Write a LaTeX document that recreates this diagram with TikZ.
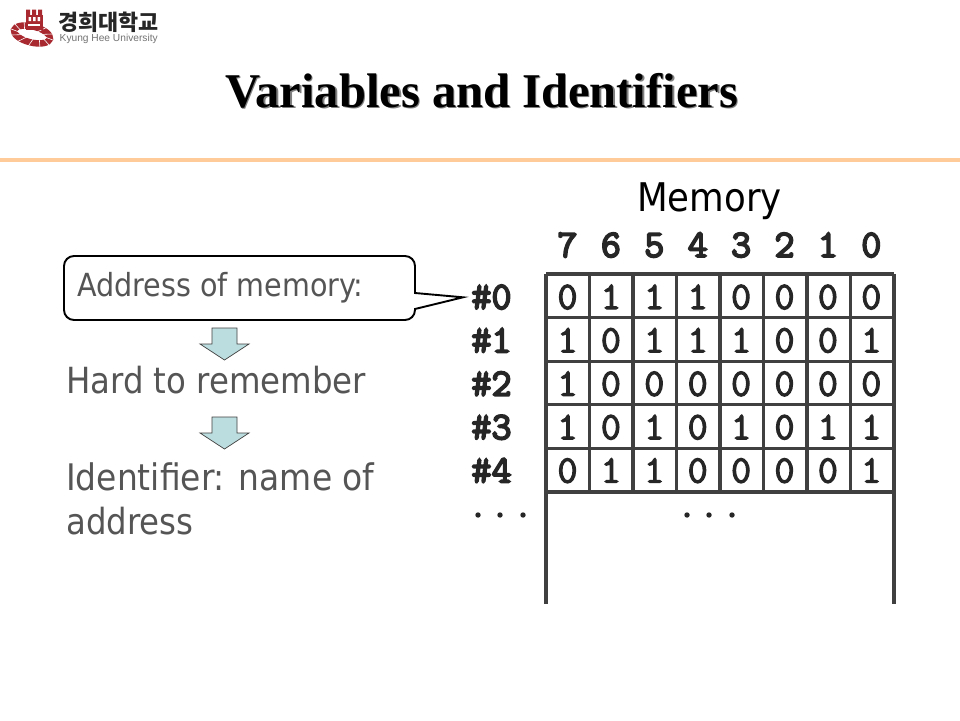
\documentclass[tikz,border=0pt]{standalone}
\usepackage{fontspec}
\setmainfont{Liberation Serif}
\newfontfamily\bodyfont{DejaVu Sans Condensed}
\newfontfamily\monofont{Latin Modern Mono}[FakeBold=4.5]
\newfontfamily\monofat{Latin Modern Mono}[FakeBold=3]
\newfontfamily\cjkfont{Noto Sans CJK KR}
\newfontfamily\logofont{Liberation Sans}
\definecolor{bodygray}{HTML}{555555}
\definecolor{rulecol}{HTML}{FFCC99}
\definecolor{arrowfill}{HTML}{BCDDDF}
\definecolor{logored}{HTML}{A82A30}
\tikzset{
  x=1pt,y=-1pt,
  bodytext/.style={font=\bodyfont\fontsize{36}{36}\selectfont,text=bodygray,anchor=base west,inner sep=0pt},
  headtext/.style={font=\monofont\fontsize{39}{39}\selectfont,text=black!85,anchor=base,inner sep=0pt},
  celltext/.style={font=\monofat\fontsize{39}{39}\selectfont,text=black!85,anchor=base,inner sep=0pt},
  downarrow/.style={draw=black!75,fill=arrowfill,line width=0.7pt,line join=miter},
  gridline/.style={draw=black!75,line width=3.2pt},
  titletext/.style={font=\bfseries\fontsize{48.5}{48.5}\selectfont,anchor=base,inner sep=0pt},
}
\newcommand{\blockarrow}[2]{%
  \draw[downarrow] (#1-12.5,#2) -- (#1+12.5,#2) -- (#1+12.5,#2+16) -- (#1+24.5,#2+16) -- (#1,#2+32) -- (#1-24.5,#2+16) -- (#1-12.5,#2+16) -- cycle;}
\begin{document}
\begin{tikzpicture}
\useasboundingbox (0,0) rectangle (960,720);
\fill[white] (0,0) rectangle (960,720);
% logo
\draw[logored,line width=6.5pt,rotate around={-14:(32,34.5)}] (32,34.5) ellipse (18.5 and 8);
\foreach \a in {20,50,...,350}
  \draw[white,line width=0.6pt,rotate around={-14:(32,34.5)}] ({32+13*cos(\a)},{34.5+4*sin(\a)}) -- ({32+23*cos(\a+12)},{34.5+12*sin(\a+12)});
\fill[logored] (25.5,15) rectangle (42.5,30);
\fill[logored] (26,9.5) rectangle (30,15) (32,9.5) rectangle (36,15) (38,9.5) rectangle (42,15);
\fill[white] (28.5,17) rectangle (31,21) (33,17) rectangle (35.5,21) (37.5,17) rectangle (40,21);
\fill[white] (28,24) rectangle (40,26);
\node[font=\cjkfont\bfseries\fontsize{21.8}{21.8}\selectfont,text=black!85,anchor=base west,inner sep=0pt] (logokr) at (58.5,30) {경희대학교};
\node[font=\logofont\fontsize{10.2}{10.2}\selectfont,text=black!55,anchor=base west,inner sep=0pt] (logoen) at (59.5,41.5) {Kyung Hee University};
% title
\node[titletext,text=black!50] (titleshadow) at (483,108.5) {Variables and Identifiers};
\node[titletext,text=black] (title) at (481.5,107) {Variables and Identifiers};
\draw[rulecol,line width=4pt] (0,160) -- (960,160);
% left
\draw[black,line width=1.9pt,fill=white,rounded corners=10pt] (64,256) -- (415,256) -- (415,293) [sharp corners] -- (415,293) -- (463,297.3) -- (415,309) [rounded corners=10pt] -- (415,320) -- (64,320) -- cycle;
\node[bodytext,font=\bodyfont\fontsize{31.8}{31.8}\selectfont] (addr) at (77,296) {Address of memory:};
\blockarrow{224.5}{328}
\node[bodytext] (hard) at (66,393) {Hard to remember};
\blockarrow{224.5}{417}
\node[bodytext,font=\bodyfont\fontsize{36.6}{36.6}\selectfont] (ident) at (66,490) {Identifier: name of};
\node[bodytext] (addrw) at (66,534) {address};
\node[font=\bodyfont\fontsize{39.5}{39.5}\selectfont,text=black,anchor=base,inner sep=0pt] (memory) at (709.5,211) {Memory};
% memory grid
\foreach \r in {0,...,5} \draw[gridline] (546,274+43.6*\r) -- (894,274+43.6*\r);
\foreach \c in {0,...,8} \draw[gridline] (546+43.5*\c,274) -- (546+43.5*\c,492);
\draw[gridline] (546,492) -- (546,604);
\draw[gridline] (894,492) -- (894,604);
\foreach \lab [count=\i from 0] in {7,6,5,4,3,2,1,0}
  \node[headtext] (head\i) at (567.5+43.4*\i,257) {\lab};
\foreach \lab [count=\i from 0] in {{0,1,1,1,0,0,0,0},{1,0,1,1,1,0,0,1},{1,0,0,0,0,0,0,0},{1,0,1,0,1,0,1,1},{0,1,1,0,0,0,0,1}}{
  \node[headtext] (row\i) at (491.5,309+43.4*\i) {\#\i};
  \foreach \v [count=\j from 0] in \lab
    \node[celltext] (c\i\j) at (567.5+43.4*\j,309+43.4*\i) {\v};
}
\foreach \d in {478,500,523,687,709,732}
  \fill[black!85] (\d,515) circle (2.7);
\end{tikzpicture}
\end{document}
